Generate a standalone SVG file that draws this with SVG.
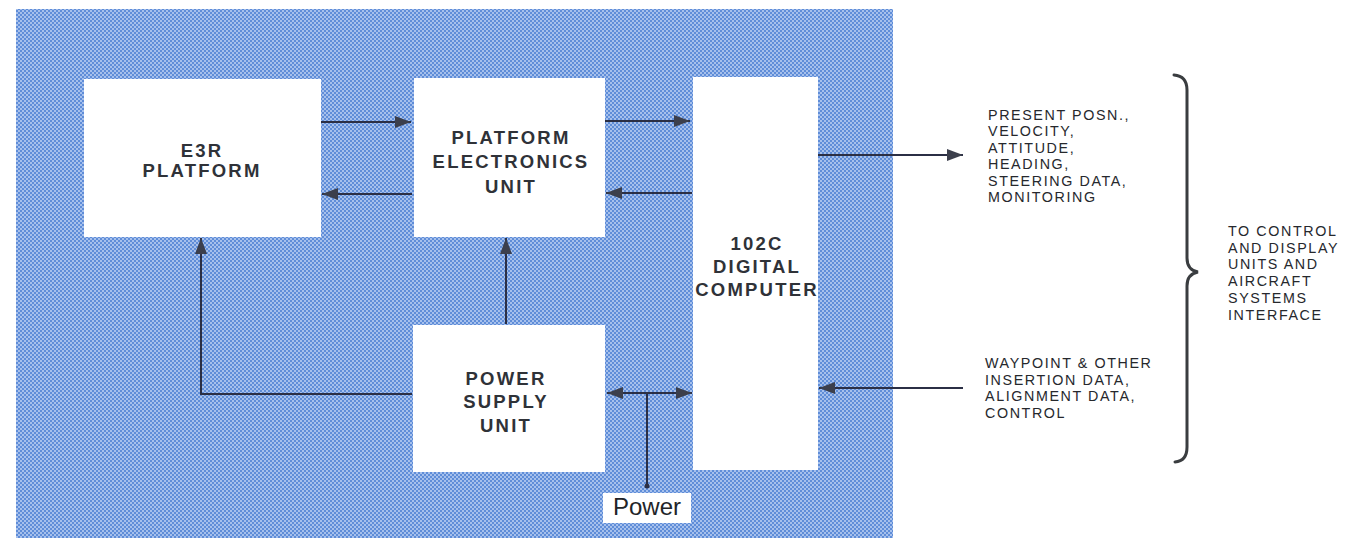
<svg xmlns="http://www.w3.org/2000/svg" width="1346" height="538" viewBox="0 0 1346 538">
  <style>
    .box { fill: #ffffff; }
    .lbl { font-family: "Liberation Sans", Arial, sans-serif; font-weight: bold; font-size: 18.5px; letter-spacing: 2.2px; fill: #2f3238; text-anchor: middle; }
    .side { font-family: "Liberation Sans", Arial, sans-serif; font-size: 14.3px; letter-spacing: 1.6px; fill: #26282d; }
    .wire { fill: none; stroke: #2b2f45; stroke-width: 2; }
    .brace { fill: none; stroke: #3a3d40; stroke-width: 3; stroke-linecap: round; }
  </style>
  <defs>
    <pattern id="halftone" width="4" height="4" patternUnits="userSpaceOnUse">
      <rect width="4" height="4" fill="#5f8dd8"/>
      <rect x="0" y="0" width="2" height="2" fill="#a6c0ec"/>
      <rect x="2" y="2" width="2" height="2" fill="#a6c0ec"/>
    </pattern>
    <marker id="arr" markerUnits="userSpaceOnUse" markerWidth="16" markerHeight="12" refX="16" refY="6" orient="auto-start-reverse">
      <path d="M0,0 L16,6 L0,12 Z" fill="#3c3f4c"/>
    </marker>
  </defs>

  <rect x="0" y="0" width="1346" height="538" fill="#ffffff"/>
  <rect id="panel" x="16" y="9" width="877" height="529" fill="url(#halftone)"/>

  <g id="e3r-platform">
    <rect class="box" x="84" y="79" width="237" height="158"/>
    <text class="lbl" x="202" y="157">E3R</text>
    <text class="lbl" x="202" y="177">PLATFORM</text>
  </g>

  <g id="platform-electronics-unit">
    <rect class="box" x="414" y="78" width="191" height="159"/>
    <text class="lbl" x="511" y="144">PLATFORM</text>
    <text class="lbl" x="511" y="168">ELECTRONICS</text>
    <text class="lbl" x="511" y="193">UNIT</text>
  </g>

  <g id="digital-computer">
    <rect class="box" x="693" y="77" width="125" height="393"/>
    <text class="lbl" x="757" y="250">102C</text>
    <text class="lbl" x="757" y="273">DIGITAL</text>
    <text class="lbl" x="757" y="296">COMPUTER</text>
  </g>

  <g id="power-supply-unit">
    <rect class="box" x="413" y="325" width="192" height="147"/>
    <text class="lbl" x="506" y="385">POWER</text>
    <text class="lbl" x="506" y="408">SUPPLY</text>
    <text class="lbl" x="506" y="432">UNIT</text>
  </g>

  <g id="power-label">
    <rect class="box" x="603" y="493" width="88" height="30"/>
    <text x="647" y="515" font-family="Liberation Sans, Arial, sans-serif" font-size="24" fill="#222428" text-anchor="middle">Power</text>
  </g>

  <g id="connectors">
    <line class="wire" x1="321" y1="122" x2="411" y2="122" marker-end="url(#arr)"/>
    <line class="wire" x1="412" y1="194" x2="322" y2="194" marker-end="url(#arr)"/>
    <line class="wire" x1="605" y1="121" x2="690" y2="121" marker-end="url(#arr)"/>
    <line class="wire" x1="692" y1="193" x2="606" y2="193" marker-end="url(#arr)"/>
    <line class="wire" x1="506" y1="324" x2="506" y2="238" marker-end="url(#arr)"/>
    <path class="wire" d="M412,394 H201 V238" marker-end="url(#arr)"/>
    <line class="wire" x1="607" y1="393" x2="692" y2="393" marker-start="url(#arr)" marker-end="url(#arr)"/>
    <line class="wire" x1="647" y1="393" x2="647" y2="486"/>
    <circle cx="647" cy="486" r="2.5" fill="#2b2f45"/>
    <line class="wire" x1="818" y1="155" x2="963" y2="155" marker-end="url(#arr)"/>
    <line class="wire" x1="963" y1="388" x2="819" y2="388" marker-end="url(#arr)"/>
  </g>

  <g id="outputs-text">
    <text class="side" x="988" y="119.5">PRESENT POSN.,</text>
    <text class="side" x="988" y="136">VELOCITY,</text>
    <text class="side" x="988" y="152.5">ATTITUDE,</text>
    <text class="side" x="988" y="169">HEADING,</text>
    <text class="side" x="988" y="185.5">STEERING DATA,</text>
    <text class="side" x="988" y="202">MONITORING</text>
  </g>

  <g id="inputs-text">
    <text class="side" x="985" y="368">WAYPOINT &amp; OTHER</text>
    <text class="side" x="985" y="384.7">INSERTION DATA,</text>
    <text class="side" x="985" y="401.4">ALIGNMENT DATA,</text>
    <text class="side" x="985" y="418">CONTROL</text>
  </g>

  <g id="brace">
    <path class="brace" d="M1174,75 Q1187,76 1187,90 V258 Q1187,270 1198,272 Q1187,274 1187,286 V447 Q1187,461 1175,462"/>
  </g>

  <g id="interface-text">
    <text class="side" x="1228" y="236">TO CONTROL</text>
    <text class="side" x="1228" y="252.7">AND DISPLAY</text>
    <text class="side" x="1228" y="269.4">UNITS AND</text>
    <text class="side" x="1228" y="286.1">AIRCRAFT</text>
    <text class="side" x="1228" y="302.8">SYSTEMS</text>
    <text class="side" x="1228" y="319.5">INTERFACE</text>
  </g>
</svg>
